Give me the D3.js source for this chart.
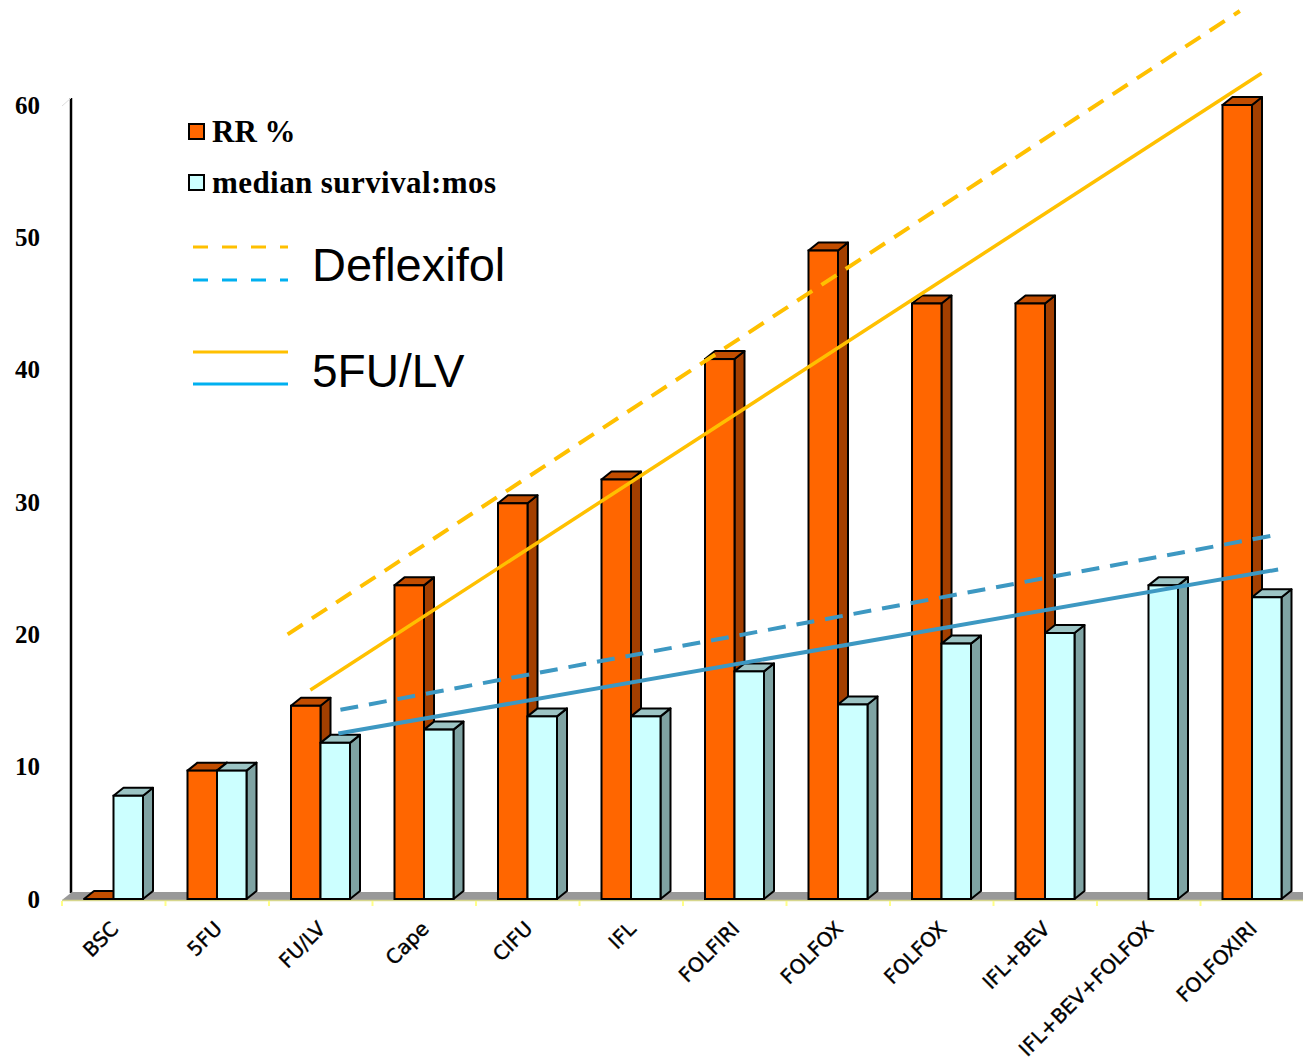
<!DOCTYPE html>
<html>
<head>
<meta charset="utf-8">
<script src="https://cdn.jsdelivr.net/npm/d3@7"></script>
<style>
  body { margin: 0; background: #fff; }
  svg { display: block; }
</style>
</head>
<body>
<div id="chart"></div>
<script>
// chart data
const categories = ["BSC", "5FU", "FU/LV", "Cape", "CIFU", "IFL", "FOLFIRI", "FOLFOX", "FOLFOX ", "IFL+BEV", "IFL+BEV+FOLFOX", "FOLFOXIRI"];
const rrValues = [0, 9.7, 14.6, 23.7, 29.9, 31.7, 40.8, 49, 45, 45, null, 60];
const msValues = [7.8, 9.7, 11.8, 12.8, 13.8, 13.8, 17.2, 14.7, 19.3, 20.1, 23.7, 22.8];
const yTicks = [0, 10, 20, 30, 40, 50, 60];

// trend lines: [category position, value] at both ends
const rrDeflexifol = [[2.18, 20.0], [11.38, 67.1]];
const rr5fulv = [[2.40, 15.8], [11.59, 62.4]];
const msDeflexifol = [[2.69, 14.3], [11.72, 27.5]];
const ms5fulv = [[2.67, 12.5], [11.75, 24.9]];

const width = 1303, height = 1060;
const depthX = 10, depthY = 8;

const svg = d3.select("#chart").append("svg")
  .attr("width", width)
  .attr("height", height);

const x = d3.scaleBand().domain(categories).range([62, 1304]);
const xPos = d3.scaleLinear().domain([0, categories.length]).range([62, 1304]);
const y = d3.scaleLinear().domain([0, 60]).range([899, 105]);

// y axis (back wall edge)
svg.append("line")
  .attr("x1", 71).attr("x2", 71)
  .attr("y1", y(60) - 7).attr("y2", y(0) - 6)
  .attr("stroke", "#000").attr("stroke-width", 2.5);
svg.append("line")
  .attr("x1", 62).attr("x2", 71)
  .attr("y1", y(60) + 1).attr("y2", y(60) - 7)
  .attr("stroke", "#ddd").attr("stroke-width", 1);

svg.selectAll(".ytick")
  .data(yTicks)
  .join("text")
  .attr("class", "ytick")
  .attr("x", 40)
  .attr("y", d => y(d))
  .attr("dy", "0.35em")
  .attr("text-anchor", "end")
  .attr("font-family", "Liberation Serif, Times New Roman, serif")
  .attr("font-weight", "bold")
  .attr("font-size", 25)
  .text(d => d);

// floor
svg.append("polygon")
  .attr("points", [[62, y(0) + 1], [62 + depthX, y(0) + 1 - depthY], [1304, y(0) + 1 - depthY], [1304, y(0) + 1]].join(" "))
  .attr("fill", "#999");
svg.append("line")
  .attr("x1", 62).attr("x2", 1304)
  .attr("y1", y(0) + 1.5).attr("y2", y(0) + 1.5)
  .attr("stroke", "#d6d68c").attr("stroke-width", 1.5);
svg.selectAll(".xtick")
  .data(d3.range(categories.length + 1))
  .join("line")
  .attr("class", "xtick")
  .attr("x1", d => xPos(d)).attr("x2", d => xPos(d))
  .attr("y1", y(0) + 2).attr("y2", y(0) + 7)
  .attr("stroke", "#ffff88").attr("stroke-width", 2);

// 3d bar helper
function bar3d(g, x0, w, v, front, top, side) {
  const yt = y(v), yb = y(0);
  g.append("polygon")
    .attr("points", [[x0 + w, yt], [x0 + w + depthX, yt - depthY], [x0 + w + depthX, yb - depthY], [x0 + w, yb]].join(" "))
    .attr("fill", side).attr("stroke", "#000").attr("stroke-width", 2).attr("stroke-linejoin", "round");
  g.append("polygon")
    .attr("points", [[x0, yt], [x0 + depthX, yt - depthY], [x0 + w + depthX, yt - depthY], [x0 + w, yt]].join(" "))
    .attr("fill", top).attr("stroke", "#000").attr("stroke-width", 2).attr("stroke-linejoin", "round");
  g.append("rect")
    .attr("x", x0).attr("y", yt)
    .attr("width", w).attr("height", yb - yt)
    .attr("fill", front).attr("stroke", "#000").attr("stroke-width", 2);
}

const barW = 29.5;
const bars = svg.append("g");
categories.forEach((c, i) => {
  if (rrValues[i] !== null) {
    bar3d(bars, x(c) + 22, barW, rrValues[i], "#ff6600", "#c24d00", "#a33f00");
  }
  bar3d(bars, x(c) + 22 + barW, barW, msValues[i], "#ccffff", "#9cc4c4", "#7fa3a3");
});

// x labels
svg.selectAll(".xlabel")
  .data(categories)
  .join("text")
  .attr("class", "xlabel")
  .attr("transform", d => `translate(${x(d) + x.bandwidth() / 2 + 6},${y(0) + 31}) rotate(-45)`)
  .attr("text-anchor", "end")
  .attr("font-family", "DejaVu Sans, Verdana, sans-serif")
  .attr("font-size", 20)
  .attr("stroke", "#000").attr("stroke-width", 0.4)
  .text(d => d.trim());

// trend lines
const line = d3.line().x(d => xPos(d[0])).y(d => y(d[1]));
svg.append("path").attr("d", line(rrDeflexifol))
  .attr("fill", "none").attr("stroke", "#ffc000").attr("stroke-width", 4).attr("stroke-dasharray", "18 11");
svg.append("path").attr("d", line(rr5fulv))
  .attr("fill", "none").attr("stroke", "#ffc000").attr("stroke-width", 3.5);
svg.append("path").attr("d", line(msDeflexifol))
  .attr("fill", "none").attr("stroke", "#3d98c2").attr("stroke-width", 4).attr("stroke-dasharray", "18 11");
svg.append("path").attr("d", line(ms5fulv))
  .attr("fill", "none").attr("stroke", "#3d98c2").attr("stroke-width", 4);

// legend
const leg = svg.append("g");
leg.append("rect").attr("x", 189).attr("y", 124).attr("width", 15).attr("height", 15)
  .attr("fill", "#ff6600").attr("stroke", "#000").attr("stroke-width", 2);
leg.append("rect").attr("x", 189).attr("y", 175).attr("width", 15).attr("height", 15)
  .attr("fill", "#ccffff").attr("stroke", "#000").attr("stroke-width", 2);
leg.append("text").attr("x", 212).attr("y", 142)
  .attr("font-family", "Liberation Serif, Times New Roman, serif").attr("font-weight", "bold")
  .attr("font-size", 31).text("RR %");
leg.append("text").attr("x", 212).attr("y", 193)
  .attr("font-family", "Liberation Serif, Times New Roman, serif").attr("font-weight", "bold")
  .attr("font-size", 31).attr("textLength", 284).text("median survival:mos");

leg.append("line").attr("x1", 193).attr("x2", 288).attr("y1", 247).attr("y2", 247)
  .attr("stroke", "#ffc000").attr("stroke-width", 3).attr("stroke-dasharray", "15 14");
leg.append("line").attr("x1", 193).attr("x2", 288).attr("y1", 280).attr("y2", 280)
  .attr("stroke", "#00b0f0").attr("stroke-width", 3).attr("stroke-dasharray", "15 14");
leg.append("text").attr("x", 312).attr("y", 281)
  .attr("font-family", "Liberation Sans, Arial, sans-serif")
  .attr("font-size", 47).text("Deflexifol");

leg.append("line").attr("x1", 193).attr("x2", 288).attr("y1", 352).attr("y2", 352)
  .attr("stroke", "#ffc000").attr("stroke-width", 3);
leg.append("line").attr("x1", 193).attr("x2", 288).attr("y1", 384).attr("y2", 384)
  .attr("stroke", "#00b0f0").attr("stroke-width", 3);
leg.append("text").attr("x", 312).attr("y", 387)
  .attr("font-family", "Liberation Sans, Arial, sans-serif")
  .attr("font-size", 46).text("5FU/LV");
</script>
</body>
</html>
